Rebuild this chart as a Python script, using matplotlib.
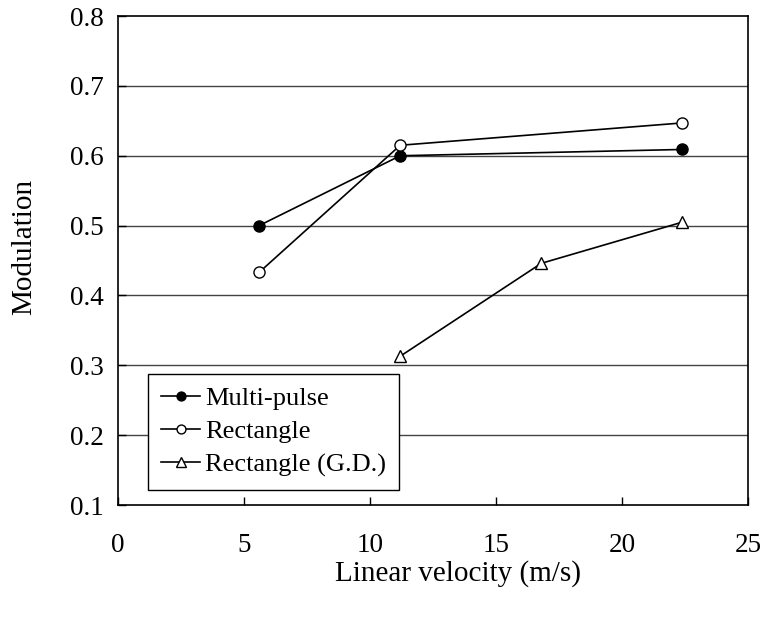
import matplotlib.pyplot as plt

plt.rcParams['font.family'] = ['Liberation Serif', 'DejaVu Serif']

vel_multi = [5.6, 11.2, 22.4]
mod_multi = [0.500, 0.600, 0.609]

vel_ret = [5.6, 11.2, 22.4]
mod_ret = [0.433, 0.615, 0.647]

vel_gd = [11.2, 16.8, 22.4]
mod_gd = [0.313, 0.446, 0.505]

xticks = [0, 5, 10, 15, 20, 25]
yticks = [0.1, 0.2, 0.3, 0.4, 0.5, 0.6, 0.7, 0.8]

fig = plt.figure(figsize=(7.7, 6.17), dpi=100)
ax = fig.add_axes([0.1532, 0.1815, 0.8182, 0.7925])

#grade so horizontal
for y in yticks[1:-1]:
    ax.axhline(y, color='#444444', linewidth=1.0, zorder=0)

ax.plot(vel_multi, mod_multi, '-o', color='black', linewidth=1.2,
        markersize=8, markerfacecolor='black', label='Multi-pulse', zorder=3)
ax.plot(vel_ret, mod_ret, '-o', color='black', linewidth=1.2,
        markersize=8, markerfacecolor='white', label='Rectangle', zorder=3)
ax.plot(vel_gd, mod_gd, '-^', color='black', linewidth=1.2,
        markersize=9, markerfacecolor='white', label='Rectangle (G.D.)', zorder=3)

ax.set_xlim(0, 25)
ax.set_ylim(0.1, 0.8)
ax.set_xticks(xticks)
ax.set_yticks(yticks)
ax.set_xticklabels([str(v) for v in xticks])
ax.set_yticklabels([f'{v:.1f}' for v in yticks])
ax.tick_params(direction='in', length=6, width=1, labelsize=19.5)
ax.tick_params(axis='x', pad=20)
ax.tick_params(axis='y', pad=10)

for s in ax.spines.values():
    s.set_linewidth(1.2)

ax.set_xlabel('Linear velocity (m/s)', fontsize=21)
ax.set_ylabel('Modulation', fontsize=21)
#posicao dos titulos dos eixos (coord. do eixo)
ax.xaxis.set_label_coords(0.54, -0.112, transform=ax.transAxes)
ax.yaxis.set_label_coords(-0.128, 0.527, transform=ax.transAxes)

leg = ax.legend(loc='lower left', bbox_to_anchor=(0.048, 0.031), fontsize=19,
                frameon=True, fancybox=False, framealpha=1, edgecolor='black',
                handlelength=1.45, handletextpad=0.2, borderpad=0.5,
                borderaxespad=0, labelspacing=0.36, markerscale=0.8)
leg.get_frame().set_linewidth(1.0)

fig.savefig('out.png', dpi=100)
